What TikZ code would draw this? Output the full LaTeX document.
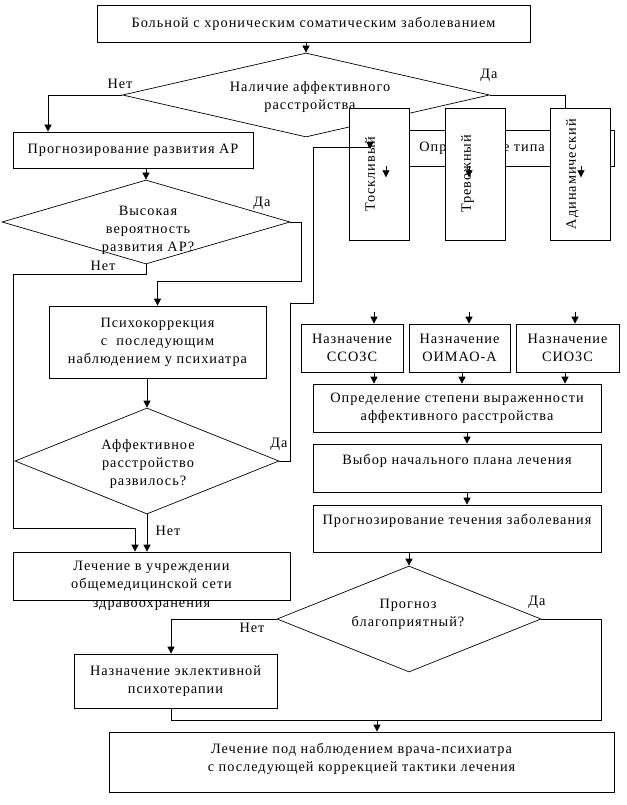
\documentclass[tikz,border=0pt]{standalone}
\usepackage{fontspec}
\setmainfont{Liberation Serif}[LetterSpace=7]
\usetikzlibrary{arrows.meta,shapes.geometric}
\newcommand{\fs}{\fontsize{14.3}{18}\selectfont}

\begin{document}
\begin{tikzpicture}[x=1pt,y=-1pt,line width=0.7pt,font=\fs,
  box/.style={draw,fill=white,align=center,inner sep=0pt},
  dec/.style={draw,diamond,inner sep=0pt},
  dtxt/.style={align=center,inner sep=0pt},
  vbox/.style={draw,fill=white,rotate=90,align=center,minimum width=132pt,minimum height=60pt,inner sep=0pt},
  ans/.style={inner sep=0pt},
  flow/.style={-{Triangle[length=7pt,width=7pt]}}]
  \useasboundingbox (0,0) rectangle (626,805);
  % upper part
  \node[box,minimum width=433pt,minimum height=37pt] (start) at (313.5,23.5) {Больной с хроническим соматическим заболеванием};
  \node[dec,minimum width=367pt,minimum height=84pt] (d1) at (306,95) {};
  \node[dtxt] (d1t) at (310,97.5) {Наличие аффективного\\расстройства};
  \node[box,minimum width=240pt,minimum height=36pt] (typ) at (494,148) {Определение типа АР};
  \node[vbox] (tosk) at (379,174) {Тоскливый\\\mbox{}};
  \node[vbox] (trev) at (475,174) {Тревожный\\\mbox{}};
  \node[vbox] (adin) at (580,174) {Адинамический\\\mbox{}};
  % left column
  \node[box,minimum width=240pt,minimum height=36pt] (prog) at (133,150) {Прогнозирование развития АР};
  \node[dec,minimum width=288pt,minimum height=84pt] (d2) at (146,222) {};
  \node[dtxt] (d2t) at (148,230) {Высокая\\вероятность\\развития АР?};
  \node[box,minimum width=217pt,minimum height=72pt] (psy) at (157.5,342) {Психокоррекция\\с\ \ последующим\\наблюдением у психиатра};
  \node[dec,minimum width=264pt,minimum height=106pt] (d3) at (147,461) {};
  \node[dtxt] (d3t) at (148,464) {Аффективное\\расстройство\\развилось?};
  \node[box,minimum width=277pt,minimum height=48pt,label={[ans]below:здравоохранения}] (gen) at (151.5,576) {Лечение в учреждении\\общемедицинской сети};
  % right column
  \node[box,minimum width=102pt,minimum height=48pt] (n1) at (352,348) {Назначение\\ССОЗС};
  \node[box,minimum width=101pt,minimum height=48pt] (n2) at (459.5,348) {Назначение\\ОИМАО-А};
  \node[box,minimum width=103pt,minimum height=48pt] (n3) at (567.5,348) {Назначение\\СИОЗС};
  \node[box,minimum width=288pt,minimum height=48pt] (opr) at (457,408) {Определение степени выраженности\\аффективного расстройства};
  \node[box,minimum width=288pt,minimum height=48pt] (vyb) at (457,468) {Выбор начального плана лечения\\\mbox{}};
  \node[box,minimum width=288pt,minimum height=47pt] (prt) at (457,528.5) {Прогнозирование течения заболевания\\\mbox{}};
  \node[dec,minimum width=264pt,minimum height=106pt] (d4) at (409,619) {};
  \node[dtxt] (d4t) at (408,614.5) {Прогноз\\благоприятный?};
  \node[box,minimum width=203pt,minimum height=54pt] (ekl) at (175.5,681) {Назначение эклективной\\психотерапии};
  \node[box,minimum width=505pt,minimum height=60pt] (fin) at (361.5,762) {Лечение под наблюдением врача-психиатра\\с последующей коррекцией тактики лечения\\[-8pt]\mbox{}};
  % answers
  \node[ans] (d1no) at (120,84) {Нет};
  \node[ans] (d1yes) at (489,75) {Да};
  \node[ans] (d2yes) at (262,203) {Да};
  \node[ans] (d2no) at (103,266) {Нет};
  \node[ans] (d3yes) at (279,444) {Да};
  \node[ans] (d3no) at (168,531) {Нет};
  \node[ans] (d4yes) at (537,602) {Да};
  \node[ans] (d4no) at (252,628) {Нет};
  % connectors
  \coordinate (toskin) at (370,149);
  \coordinate (join) at (601,720);
  \draw[flow] (start.south -| d1.north) -- (d1.north);
  \draw[flow] (d1.west) -| ([xshift=-85pt]prog.north);
  \draw (d1.east) -| ([xshift=-15pt]adin.east);
  \draw[flow] (prog.south -| d2.north) -- (d2.north);
  \draw[flow] (d2.east) -- ++(11,0) |- ([yshift=24pt]psy.north) -- (psy.north);
  \draw[flow] (d2.south) -- ++(0,10) -| (13,528) -| ([xshift=-16.5pt]gen.north);
  \draw[flow] (psy.south -| d3.north) -- (d3.north);
  \draw[flow] (d3.south) -- (d3.south |- gen.north);
  \draw[flow] (d3.east) -- ++(11,0) |- (313,303) |- (370,147) -- (toskin);
  \draw[flow] ([xshift=-108pt]typ.south) -- ++(0,11);
  \draw[flow] ([xshift=-25pt]typ.south) -- ++(0,11);
  \draw[flow] ([xshift=87pt]typ.south) -- ++(0,11);
  \draw[flow] ([xshift=22pt,yshift=12pt]n1.north) -- ([xshift=22pt]n1.north);
  \draw[flow] ([xshift=9.5pt,yshift=12pt]n2.north) -- ([xshift=9.5pt]n2.north);
  \draw[flow] ([xshift=7.5pt,yshift=12pt]n3.north) -- ([xshift=7.5pt]n3.north);
  \draw[flow] ([xshift=22pt]n1.south) -- ([xshift=22pt]n1.south |- opr.north);
  \draw[flow] ([xshift=2.5pt]n2.south) -- ([xshift=2.5pt]n2.south |- opr.north);
  \draw[flow] ([xshift=-2.5pt]n3.south) -- ([xshift=-2.5pt]n3.south |- opr.north);
  \draw[flow] ([xshift=10pt]opr.south) -- ([xshift=10pt]opr.south |- vyb.north);
  \draw[flow] ([xshift=10pt]vyb.south) -- ([xshift=10pt]vyb.south |- prt.north);
  \draw[flow] (prt.south -| d4.north) -- (d4.north);
  \draw[flow] (d4.west) -| ([xshift=-4.5pt]ekl.north);
  \draw ([xshift=-4.5pt]ekl.south) |- (join) |- (d4.east);
  \draw[flow] ([xshift=15.5pt]fin.north |- join) -- ([xshift=15.5pt]fin.north);
\end{tikzpicture}
\end{document}
